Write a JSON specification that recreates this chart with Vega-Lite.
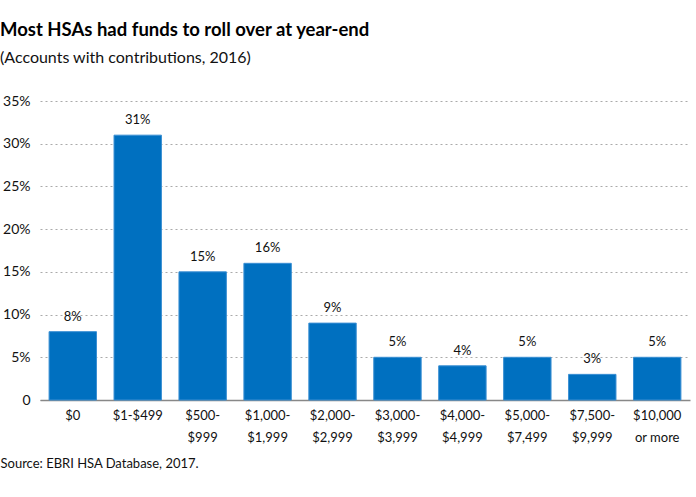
{
  "$schema": "https://vega.github.io/schema/vega-lite/v6.json",
  "autosize": {"type": "none"},
  "width": 650,
  "height": 299,
  "padding": {"left": 40, "top": 101, "right": 6, "bottom": 97},
  "background": "white",
  "title": {
    "text": "Most HSAs had funds to roll over at year-end",
    "subtitle": "(Accounts with contributions, 2016)",
    "anchor": "start",
    "frame": "group",
    "dx": -40,
    "offset": 28,
    "font": "Lato",
    "fontSize": 18.5,
    "fontWeight": "bold",
    "color": "#000000",
    "subtitleFont": "Lato",
    "subtitleFontSize": 16,
    "subtitleColor": "#111111",
    "subtitlePadding": 11
  },
  "data": {
    "values": [
      {"range": "$0", "pct": 0.08},
      {"range": "$1-$499", "pct": 0.31},
      {"range": "$500-|$999", "pct": 0.15},
      {"range": "$1,000-|$1,999", "pct": 0.16},
      {"range": "$2,000-|$2,999", "pct": 0.09},
      {"range": "$3,000-|$3,999", "pct": 0.05},
      {"range": "$4,000-|$4,999", "pct": 0.04},
      {"range": "$5,000-|$7,499", "pct": 0.05},
      {"range": "$7,500-|$9,999", "pct": 0.03},
      {"range": "$10,000|or more", "pct": 0.05}
    ]
  },
  "encoding": {
    "x": {
      "field": "range",
      "type": "nominal",
      "sort": null,
      "scale": {"paddingInner": 0.27, "paddingOuter": 0.14},
      "axis": {
        "title": "Source:  EBRI HSA Database, 2017.",
        "titleAnchor": "start",
        "titleAlign": "left",
        "titleX": -40,
        "titleY": 63,
        "titleBaseline": "middle",
        "titleFont": "Lato",
        "titleFontSize": 13,
        "titleFontWeight": "normal",
        "titleColor": "#111111",
        "labelAngle": 0,
        "labelExpr": "split(datum.label, '|')",
        "labelFont": "Lato",
        "labelFontSize": 13,
        "labelColor": "#111111",
        "labelPadding": 9,
        "labelLineHeight": 22,
        "labelBaseline": "top",
        "ticks": false,
        "domainColor": "#888888",
        "domainWidth": 1.5,
        "grid": false
      }
    },
    "y": {
      "field": "pct",
      "type": "quantitative",
      "scale": {"domain": [0, 0.35]},
      "axis": {
        "title": null,
        "values": [0, 0.05, 0.1, 0.15, 0.2, 0.25, 0.3, 0.35],
        "labelExpr": "datum.value == 0 ? '0' : format(datum.value, '.0%')",
        "labelFont": "Lato",
        "labelFontSize": 14,
        "labelColor": "#111111",
        "labelPadding": 10,
        "domain": false,
        "ticks": false,
        "grid": true,
        "gridColor": "#aaaaaa",
        "gridDash": [2, 3],
        "gridWidth": 1
      }
    }
  },
  "layer": [
    {
      "mark": {"type": "bar", "color": "#0070c0", "stroke": "#3a8fd3", "strokeWidth": 1}
    },
    {
      "mark": {"type": "text", "baseline": "bottom", "dy": -8, "font": "Lato", "fontSize": 13, "color": "#111111"},
      "encoding": {
        "text": {"field": "pct", "type": "quantitative", "format": ".0%"}
      }
    }
  ],
  "config": {"view": {"stroke": null}}
}
